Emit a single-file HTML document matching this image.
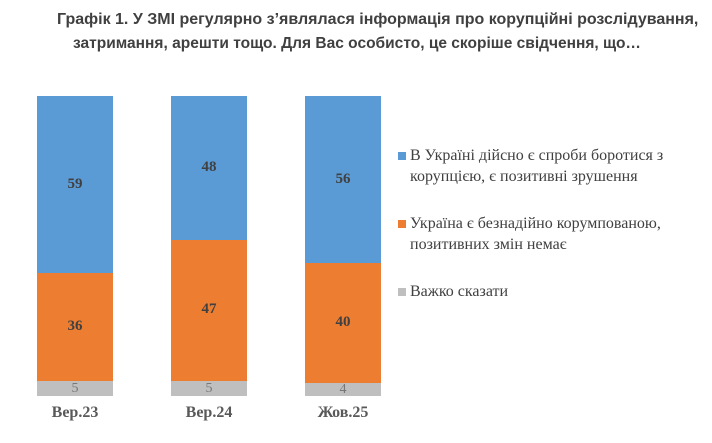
<!DOCTYPE html>
<html><head><meta charset="utf-8"><style>
body{margin:0;background:#fff;width:712px;height:443px;overflow:hidden;position:relative}
.t{position:absolute;font-family:"Liberation Sans",sans-serif;font-weight:bold;font-size:16px;color:#404040;white-space:nowrap;line-height:18px}
.b{position:absolute;width:76px}
.v{position:absolute;width:76px;text-align:center;font-family:"Liberation Serif",serif;font-weight:bold;font-size:15px;color:#404040}
.g{position:absolute;width:76px;text-align:center;font-family:"Liberation Serif",serif;font-size:14px;color:#777;line-height:15px}
.x{position:absolute;width:90px;margin-left:-7px;text-align:center;font-family:"Liberation Serif",serif;font-weight:bold;font-size:16px;color:#595959;top:404px}
.l{position:absolute;left:398px;font-family:"Liberation Serif",serif;font-size:16px;color:#404040;line-height:21px;white-space:nowrap}
.sq{display:inline-block;width:8px;height:8px;margin-right:4px}
</style></head><body>
<div class="t" style="left:57px;top:11px">Графік 1. У ЗМІ регулярно з’являлася інформація про корупційні розслідування,</div>
<div class="t" style="left:73px;top:35px;transform:scaleX(0.97);transform-origin:left top">затримання, арешти тощо. Для Вас особисто, це скоріше свідчення, що…</div>

<div class="b" style="left:37px;top:96px;height:177px;background:#5b9bd5"></div>
<div class="b" style="left:37px;top:273px;height:108px;background:#ed7d31"></div>
<div class="b" style="left:37px;top:381px;height:15px;background:#bfbfbf"></div>
<div class="v" style="left:37px;top:176px">59</div>
<div class="v" style="left:37px;top:318px">36</div>
<div class="g" style="left:37px;top:381px">5</div>
<div class="x" style="left:37px">Вер.23</div>

<div class="b" style="left:171px;top:96px;height:144px;background:#5b9bd5"></div>
<div class="b" style="left:171px;top:240px;height:141px;background:#ed7d31"></div>
<div class="b" style="left:171px;top:381px;height:15px;background:#bfbfbf"></div>
<div class="v" style="left:171px;top:159px">48</div>
<div class="v" style="left:171px;top:301px">47</div>
<div class="g" style="left:171px;top:381px">5</div>
<div class="x" style="left:171px">Вер.24</div>

<div class="b" style="left:305px;top:96px;height:167px;background:#5b9bd5"></div>
<div class="b" style="left:305px;top:263px;height:120px;background:#ed7d31"></div>
<div class="b" style="left:305px;top:383px;height:13px;background:#bfbfbf"></div>
<div class="v" style="left:305px;top:171px">56</div>
<div class="v" style="left:305px;top:314px">40</div>
<div class="g" style="left:305px;top:382px">4</div>
<div class="x" style="left:305px">Жов.25</div>

<div class="l" style="top:145px"><span class="sq" style="background:#5b9bd5"></span>В Україні дійсно є спроби боротися з<br><span style="padding-left:12px">корупцією, є позитивні зрушення</span></div>
<div class="l" style="top:213px"><span class="sq" style="background:#ed7d31"></span>Україна є безнадійно корумпованою,<br><span style="padding-left:12px">позитивних змін немає</span></div>
<div class="l" style="top:281px"><span class="sq" style="background:#bfbfbf"></span>Важко сказати</div>
</body></html>
